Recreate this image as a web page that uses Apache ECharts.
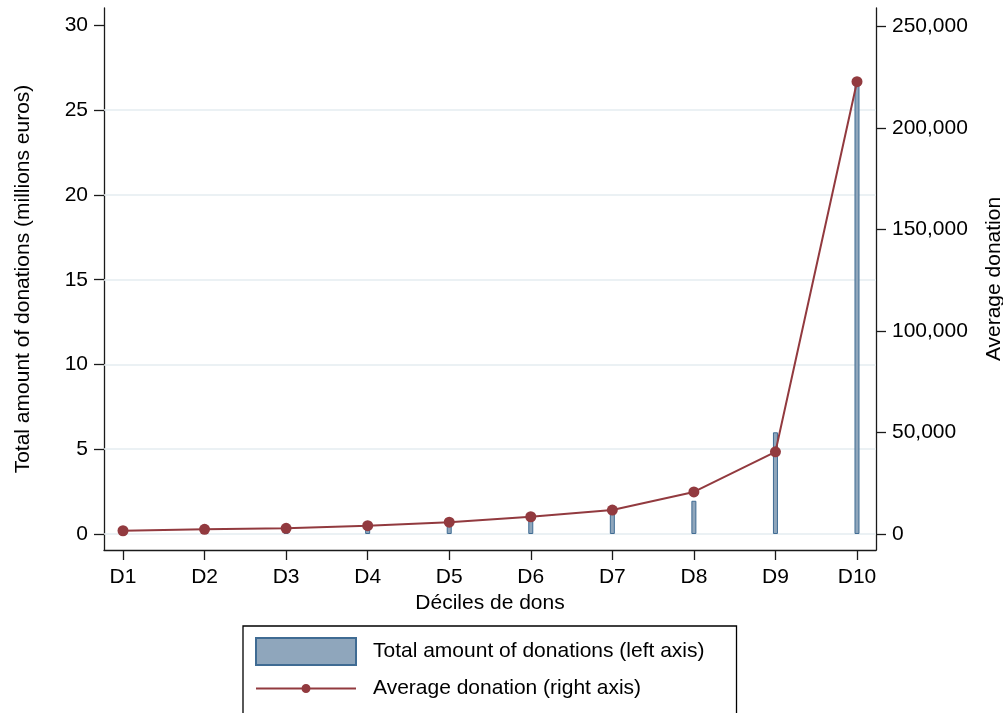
<!DOCTYPE html>
<html>
<head>
<meta charset="utf-8">
<script src="https://cdn.jsdelivr.net/npm/echarts@6/dist/echarts.min.js"></script>
<style>
html,body{margin:0;padding:0;background:#fff;}
#chart{width:1003px;height:713px;}
</style>
</head>
<body>
<div id="chart"></div>
<script>
const categories = ['D1','D2','D3','D4','D5','D6','D7','D8','D9','D10'];
const totalAmount = [0.03, 0.07, 0.15, 0.35, 0.55, 0.85, 1.2, 1.96, 6.0, 26.6];
const averageDonation = [1600, 2300, 2800, 4100, 5800, 8500, 11800, 20700, 40500, 222800];
const leftTicks = [0, 5, 10, 15, 20, 25, 30];
const rightTicks = [0, 50000, 100000, 150000, 200000, 250000];
const gridValues = [0, 5, 10, 15, 20, 25];
const xTicks = [1,2,3,4,5,6,7,8,9,10];

const FONT = 'Liberation Sans, Arial, Helvetica, sans-serif';
const FS = 21;
const axisColor = '#1a1a1a';

const chart = echarts.init(document.getElementById('chart'), null, {renderer:'canvas'});
chart.setOption({
  animation: false,
  backgroundColor: '#ffffff',
  textStyle: {fontFamily: FONT, color: '#000'},
  grid: {left: 104, right: 127, top: 8, bottom: 163, containLabel: false, outerBoundsMode: 'none'},
  xAxis: {
    type: 'value',
    min: 0.767, max: 10.233,
    name: 'Déciles de dons',
    nameLocation: 'middle',
    nameGap: 42,
    nameTextStyle: {fontSize: FS, color: '#000', fontFamily: FONT},
    axisLine: {show: true, onZero: false, lineStyle: {color: axisColor, width: 1.3}},
    axisTick: {show: true, length: 10, customValues: xTicks, lineStyle: {color: axisColor, width: 1.3}},
    axisLabel: {customValues: xTicks, margin: 17, fontSize: FS, color: '#000', fontFamily: FONT,
      formatter: v => categories[Math.round(v) - 1]},
    splitLine: {show: false}
  },
  yAxis: [
    {
      type: 'value', position: 'left',
      min: -0.944, max: 31.03,
      name: 'Total amount of donations (millions euros)',
      nameLocation: 'middle', nameRotate: 90, nameGap: 70,
      nameTextStyle: {fontSize: FS, color: '#000', fontFamily: FONT},
      axisLine: {show: true, onZero: false, lineStyle: {color: axisColor, width: 1.3}},
      axisTick: {show: true, length: 10, customValues: leftTicks, lineStyle: {color: axisColor, width: 1.3}},
      axisLabel: {customValues: leftTicks, margin: 16, fontSize: FS, color: '#000', fontFamily: FONT},
      splitLine: {show: false}
    },
    {
      type: 'value', position: 'right',
      min: -7882, max: 259100,
      name: 'Average donation',
      nameLocation: 'middle', nameRotate: 90, nameGap: 108,
      nameTextStyle: {fontSize: FS, color: '#000', fontFamily: FONT},
      axisLine: {show: true, onZero: false, lineStyle: {color: axisColor, width: 1.3}},
      axisTick: {show: true, length: 10, customValues: rightTicks, lineStyle: {color: axisColor, width: 1.3}},
      axisLabel: {customValues: rightTicks, margin: 16, fontSize: FS, color: '#000', fontFamily: FONT,
        formatter: v => Number(v).toLocaleString('en-US')},
      splitLine: {show: false}
    }
  ],
  legend: {
    left: 243, top: 626,
    height: 90,
    orient: 'vertical',
    padding: [11, 32, 20, 12],
    itemGap: 12,
    itemWidth: 100, itemHeight: 27,
    borderColor: '#000', borderWidth: 1.3,
    textStyle: {fontSize: FS, color: '#000', fontFamily: FONT, padding: [0, 0, 0, 12]},
    data: [
      {name: 'Total amount of donations (left axis)', icon: 'rect'},
      {name: 'Average donation (right axis)',
       icon: 'path://M0,3 L100,3 L100,5 L0,5 Z M54.5,4 A4.5,4.5 0 1,1 45.5,4 A4.5,4.5 0 1,1 54.5,4 Z',
       itemStyle: {color: '#923a3f', borderWidth: 0}}
    ]
  },
  series: [
    {
      name: 'Total amount of donations (left axis)',
      type: 'bar',
      yAxisIndex: 0,
      barWidth: 5,
      itemStyle: {color: '#8fa6bc', borderColor: '#3f6b93', borderWidth: 1},
      data: categories.map((c, i) => [i + 1, totalAmount[i]]),
      markLine: {
        silent: true, symbol: 'none', z: 1,
        label: {show: false},
        lineStyle: {color: '#e5edf1', width: 1.5, type: 'solid'},
        emphasis: {disabled: true},
        data: gridValues.map(v => ({yAxis: v}))
      },
      z: 2
    },
    {
      name: 'Average donation (right axis)',
      type: 'line',
      yAxisIndex: 1,
      symbol: 'circle',
      symbolSize: 11,
      lineStyle: {color: '#923a3f', width: 2},
      itemStyle: {color: '#923a3f'},
      data: categories.map((c, i) => [i + 1, averageDonation[i]]),
      z: 3
    }
  ]
});
</script>
</body>
</html>
